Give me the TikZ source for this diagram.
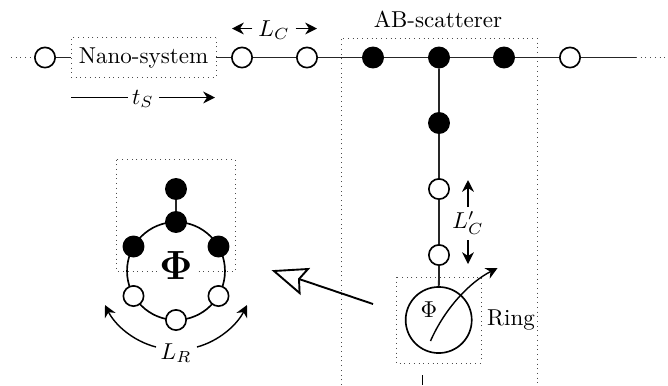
\documentclass[tikz,border=0pt]{standalone}
\usetikzlibrary{arrows.meta}
\tikzset{
  px/.style={x=0.4237pt,y=-0.4237pt},
  site/.style={circle,draw=black,line width=0.7pt,minimum size=8.6pt,inner sep=0pt},
  opensite/.style={site,fill=white},
  fullsite/.style={site,fill=black},
  wire/.style={line width=0.75pt,black!85},
  frame/.style={draw=black!70,line width=0.4pt,dash pattern=on 0.4pt off 1.6pt},
  dimarrow/.style={line width=0.6pt,-{Stealth[length=5pt,width=5pt]}},
  tip/.style={inner sep=0pt,outer sep=0pt,scale=0.975},
}
\begin{document}
\begin{tikzpicture}[px]
\useasboundingbox (0,0) rectangle (668,385);
% frames
\coordinate (abbl) at (341,385);
\coordinate (abtl) at (341,38);
\coordinate (abtr) at (537,38);
\coordinate (abbr) at (537,385);
\draw[frame] (abbl) -- (abtl) -- (abtr) -- (abbr);
% upper chain coordinates
\coordinate (lend) at (11,57.5);
\coordinate (rend) at (636,57.5);
\coordinate (rdot) at (668,57.5);
\node[opensite] (a) at (45,57.5) {};
\node[frame,draw,minimum width=63pt,minimum height=17pt,inner sep=0pt,scale=0.975] (nano) at (143.5,57.5) {Nano-system};
\node[opensite] (b) at (242,57.5) {};
\node[opensite] (c) at (307,57.5) {};
\node[fullsite] (d) at (373,57.5) {};
\node[fullsite] (e) at (439,57.5) {};
\node[fullsite] (f) at (504,57.5) {};
\node[opensite] (g) at (570,57.5) {};
\node[fullsite] (h) at (439,123) {};
\node[opensite] (i) at (439,189) {};
\node[opensite] (j) at (439,255) {};
\node[circle,draw=black,line width=0.7pt,minimum size=28pt,inner sep=0pt] (ring) at (438.7,320) {};
\draw[frame] (lend) -- (a);
\draw[frame] (rend) -- (rdot);
\draw[wire] (a) -- (nano) (nano) -- (b) -- (c) -- (d) -- (e) -- (f) -- (g) -- (rend);
\draw[wire] (e) -- (h) -- (i) -- (j) -- (ring);
% ring box and text
\coordinate (rb1) at (396,277);
\coordinate (rb2) at (481,363);
\draw[frame] (rb1) rectangle (rb2);
\node[tip] (phis) at (429,310) {$\Phi$};
\node[tip] (ringl) at (511,320) {Ring};
\coordinate (cs) at (430.5,341);
\coordinate (ce) at (497.6,268);
\draw[dimarrow] (cs) .. controls (445,308) and (470,282) .. (ce);
\coordinate (tk1) at (422.5,375);
\coordinate (tk2) at (422.5,385);
\draw[line width=0.6pt] (tk1) -- (tk2);
% labels
\node[tip] (abl) at (438,19) {AB-scatterer};
\node[tip] (lc) at (274,30) {$L_C$};
\coordinate (lc1) at (232,28.5);
\coordinate (lc2) at (317,28.5);
\draw[dimarrow] (lc.west) ++(-6,-1.5) -- (lc1);
\draw[dimarrow] (lc.east) ++(6,-1.5) -- (lc2);
\node[tip] (ts) at (143,99) {$t_S$};
\coordinate (ts1) at (71,97.5);
\coordinate (ts2) at (215,97.5);
\draw[line width=0.6pt] (ts1) -- (128,97.5);
\draw[dimarrow] (159,97.5) -- (ts2);
\node[tip] (lcp) at (468,223) {$L'_C$};
\coordinate (lcp1) at (468,180);
\coordinate (lcp2) at (468,264);
\draw[dimarrow] (468,207) -- (lcp1);
\draw[dimarrow] (468,240) -- (lcp2);
% big open arrow
\coordinate (bs) at (373,304);
\coordinate (bn) at (299,279);
\coordinate (btip) at (274,271);
\draw[line width=0.8pt] (bs) -- (bn);
\draw[line width=0.8pt,fill=white,line join=miter] (btip) -- (308,269) -- (299,279) -- (299.6,293) -- cycle;
% left ring
\coordinate (lb1) at (116.7,159.5);
\coordinate (lb2) at (235,271);
\draw[frame] (lb1) rectangle (lb2);
\node[circle,draw=black,line width=0.7pt,minimum size=41.5pt,inner sep=0pt] (lring) at (176,271) {};
\node[fill=white,inner sep=1pt] (bigphi) at (176,266) {\LARGE$\mathbf{\Phi}$};
\node[fullsite] (p) at (176,189) {};
\node[fullsite] (q) at (176,222) {};
\draw[wire] (p) -- (q);
\node[fullsite] (r) at (133.5,246.5) {};
\node[fullsite] (s) at (218.5,246.5) {};
\node[opensite] (t) at (133.5,296) {};
\node[opensite] (u) at (218.5,296) {};
\node[opensite] (v) at (176,320) {};
\node[tip] (lr) at (176,353) {$L_R$};
\coordinate (lra) at (105,305);
\coordinate (lrb) at (247,305);
\coordinate (lrs) at (156,347);
\coordinate (lre) at (197,347);
\draw[dimarrow] (lrs) .. controls (133,341) and (115,325) .. (lra);
\draw[dimarrow] (lre) .. controls (219,341) and (237,325) .. (lrb);
\end{tikzpicture}
\end{document}
